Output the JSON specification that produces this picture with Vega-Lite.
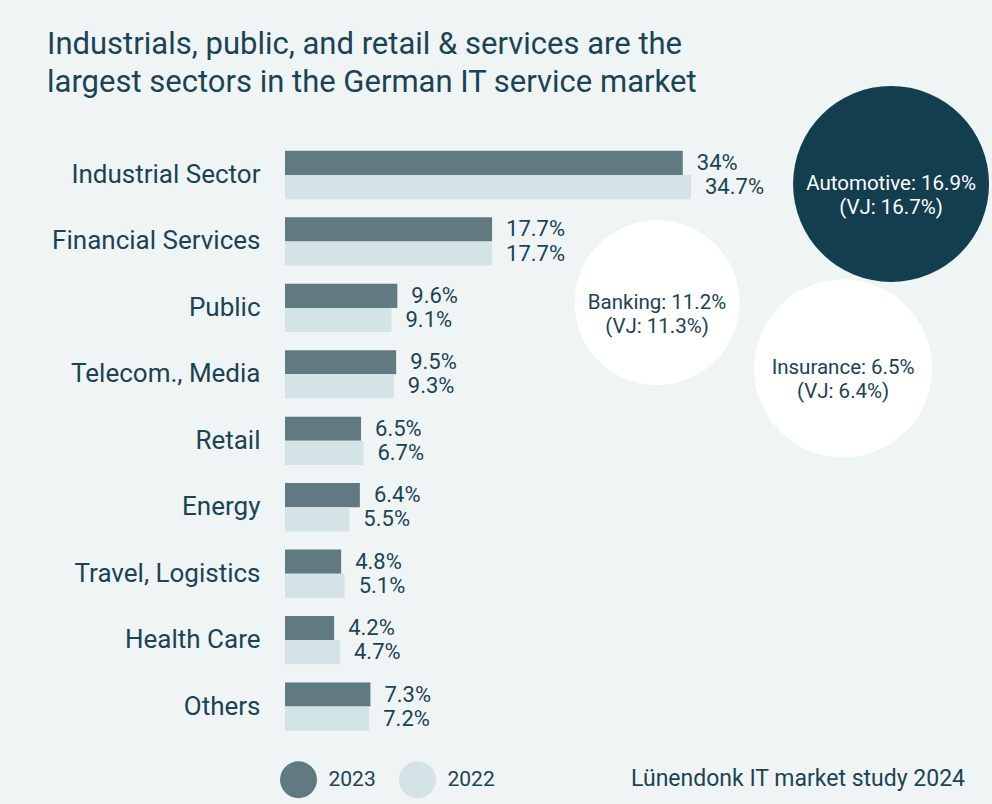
{
  "$schema": "https://vega.github.io/schema/vega-lite/v6.json",
  "width": 702,
  "height": 598,
  "autosize": {"type": "none"},
  "padding": {"left": 285, "top": 141.8, "right": 5, "bottom": 64.2},
  "background": "#eff5f5",
  "config": {"view": {"stroke": null}, "font": "Roboto"},
  "title": {
    "text": ["Industrials, public, and retail & services are the", "largest sectors in the German IT service market"],
    "anchor": "start",
    "frame": "group",
    "dx": -238,
    "offset": -13,
    "fontSize": 31,
    "font": "Roboto",
    "fontWeight": "normal",
    "color": "#1b4354",
    "lineHeight": 38.5
  },
  "datasets": {
    "sectors": [
      {"sector": "Industrial Sector", "year": "2023", "value": 34},
      {"sector": "Industrial Sector", "year": "2022", "value": 34.7},
      {"sector": "Financial Services", "year": "2023", "value": 17.7},
      {"sector": "Financial Services", "year": "2022", "value": 17.7},
      {"sector": "Public", "year": "2023", "value": 9.6},
      {"sector": "Public", "year": "2022", "value": 9.1},
      {"sector": "Telecom., Media", "year": "2023", "value": 9.5},
      {"sector": "Telecom., Media", "year": "2022", "value": 9.3},
      {"sector": "Retail", "year": "2023", "value": 6.5},
      {"sector": "Retail", "year": "2022", "value": 6.7},
      {"sector": "Energy", "year": "2023", "value": 6.4},
      {"sector": "Energy", "year": "2022", "value": 5.5},
      {"sector": "Travel, Logistics", "year": "2023", "value": 4.8},
      {"sector": "Travel, Logistics", "year": "2022", "value": 5.1},
      {"sector": "Health Care", "year": "2023", "value": 4.2},
      {"sector": "Health Care", "year": "2022", "value": 4.7},
      {"sector": "Others", "year": "2023", "value": 7.3},
      {"sector": "Others", "year": "2022", "value": 7.2}
    ]
  },
  "layer": [
    {
      "data": {"name": "sectors"},
      "transform": [{"calculate": "datum.value + '%'", "as": "label"}],
      "encoding": {
        "y": {
          "field": "sector",
          "type": "nominal",
          "sort": ["Industrial Sector", "Financial Services", "Public", "Telecom., Media", "Retail", "Energy", "Travel, Logistics", "Health Care", "Others"],
          "scale": {"paddingInner": 0.273, "paddingOuter": 0.1365},
          "axis": {"title": null, "domain": false, "ticks": false, "labelPadding": 25, "labelFontSize": 26, "labelFont": "Roboto", "labelColor": "#1b4354", "labelLimit": 400}
        },
        "yOffset": {"field": "year", "type": "nominal", "sort": ["2023", "2022"], "scale": {"paddingInner": 0, "paddingOuter": 0}},
        "x": {"field": "value", "type": "quantitative", "scale": {"domain": [0, 60], "nice": false}, "axis": null}
      },
      "layer": [
        {
          "mark": {"type": "bar", "cornerRadius": 0},
          "encoding": {
            "color": {
              "field": "year",
              "type": "nominal",
              "scale": {"domain": ["2023", "2022"], "range": ["#617980", "#d4e3e6"]},
              "legend": {
                "title": null,
                "orient": "none",
                "direction": "horizontal",
                "legendX": -5.5,
                "legendY": 618.7,
                "padding": 0,
                "symbolType": "circle",
                "symbolSize": 1370,
                "symbolStrokeWidth": 0,
                "symbolOpacity": 1,
                "labelOffset": 11,
                "columnPadding": 22,
                "labelFontSize": 21,
                "labelFont": "Roboto",
                "labelColor": "#1b4354"
              }
            }
          }
        },
        {
          "mark": {"type": "text", "align": "left", "baseline": "middle", "dx": 14, "fontSize": 22, "font": "Roboto", "color": "#1b4354"},
          "encoding": {"text": {"field": "label", "type": "nominal"}}
        }
      ]
    },
    {
      "layer": [
        {
          "data": {"values": [{"sector": "Automotive", "share": 16.9, "vj": 16.7}]},
          "transform": [{"calculate": "datum.sector + ': ' + datum.share + '%\\n(VJ: ' + datum.vj + '%)'", "as": "label"}],
          "encoding": {
            "x": {"datum": 51.8, "type": "quantitative"},
            "y": {"datum": 0.635, "type": "quantitative", "scale": {"domain": [0, 9], "reverse": true, "nice": false, "zero": false}, "axis": null}
          },
          "layer": [
            {"mark": {"type": "point", "shape": "circle", "filled": true, "opacity": 1, "size": 38400, "color": "#123e50", "strokeWidth": 0}},
            {"mark": {"type": "text", "align": "center", "baseline": "middle", "lineBreak": "\n", "lineHeight": 24, "fontSize": 20.5, "font": "Roboto", "color": "#ffffff"}, "encoding": {"text": {"field": "label", "type": "nominal"}}}
          ]
        },
        {
          "data": {"values": [{"sector": "Banking", "share": 11.2, "vj": 11.3}]},
          "transform": [{"calculate": "datum.sector + ': ' + datum.share + '%\\n(VJ: ' + datum.vj + '%)'", "as": "label"}],
          "encoding": {
            "x": {"datum": 31.8, "type": "quantitative"},
            "y": {"datum": 2.42, "type": "quantitative"}
          },
          "layer": [
            {"mark": {"type": "point", "shape": "circle", "filled": true, "opacity": 1, "size": 27200, "color": "#ffffff", "strokeWidth": 0}},
            {"mark": {"type": "text", "align": "center", "baseline": "middle", "lineBreak": "\n", "lineHeight": 24, "fontSize": 20.5, "font": "Roboto", "color": "#1b4354"}, "encoding": {"text": {"field": "label", "type": "nominal"}}}
          ]
        },
        {
          "data": {"values": [{"sector": "Insurance", "share": 6.5, "vj": 6.4}]},
          "transform": [{"calculate": "datum.sector + ': ' + datum.share + '%\\n(VJ: ' + datum.vj + '%)'", "as": "label"}],
          "encoding": {
            "x": {"datum": 47.7, "type": "quantitative"},
            "y": {"datum": 3.41, "type": "quantitative"}
          },
          "layer": [
            {"mark": {"type": "point", "shape": "circle", "filled": true, "opacity": 1, "size": 31700, "color": "#ffffff", "strokeWidth": 0}},
            {"mark": {"type": "text", "align": "center", "baseline": "middle", "lineBreak": "\n", "lineHeight": 24, "fontSize": 20.5, "font": "Roboto", "color": "#1b4354"}, "encoding": {"text": {"field": "label", "type": "nominal"}}}
          ]
        },
        {
          "data": {"values": [{"source": "Lünendonk IT market study 2024"}]},
          "mark": {"type": "text", "align": "right", "baseline": "middle", "fontSize": 23, "font": "Roboto", "color": "#1b4354"},
          "encoding": {
            "x": {"datum": 58.12, "type": "quantitative"},
            "y": {"datum": 9.59, "type": "quantitative"},
            "text": {"field": "source", "type": "nominal"}
          }
        }
      ]
    }
  ],
  "resolve": {"scale": {"y": "independent"}}
}
